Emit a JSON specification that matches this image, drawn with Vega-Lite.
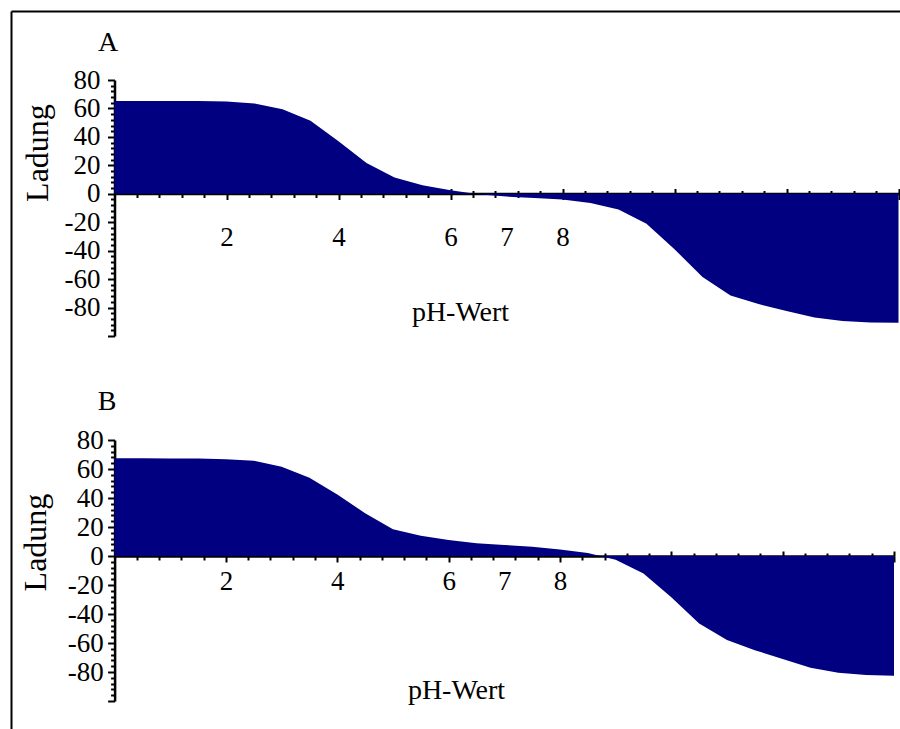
{
  "$schema": "https://vega.github.io/schema/vega-lite/v6.json",
  "autosize": {"type": "none"},
  "padding": {"left": 11, "top": 11, "right": 0, "bottom": 0},
  "width": 889,
  "height": 718,
  "background": "white",
  "config": {
    "font": "Liberation Serif",
    "view": {"stroke": null},
    "axis": {
      "labelFont": "Liberation Serif", "titleFont": "Liberation Serif",
      "labelColor": "black", "titleColor": "black", "titleFontWeight": "normal",
      "domainColor": "black", "tickColor": "black", "grid": false,
      "labelFontSize": 27, "titleFontSize": 28, "tickWidth": 2, "domainWidth": 2.5,
      "labelOverlap": false, "labelFlush": false, "labelBound": false
    }
  },
  "datasets": {
    "A": [
      {"ph": 0, "ladung": 65.3}, {"ph": 0.5, "ladung": 65.3}, {"ph": 1, "ladung": 65.3},
      {"ph": 1.5, "ladung": 65.2}, {"ph": 2, "ladung": 64.9}, {"ph": 2.5, "ladung": 63.5},
      {"ph": 3, "ladung": 59.5}, {"ph": 3.5, "ladung": 51.3}, {"ph": 4, "ladung": 37},
      {"ph": 4.5, "ladung": 21.7}, {"ph": 5, "ladung": 11.4}, {"ph": 5.5, "ladung": 6},
      {"ph": 6, "ladung": 2.5}, {"ph": 6.5, "ladung": -0.3}, {"ph": 7, "ladung": -2},
      {"ph": 7.5, "ladung": -3}, {"ph": 8, "ladung": -4}, {"ph": 8.5, "ladung": -6.5},
      {"ph": 9, "ladung": -11}, {"ph": 9.5, "ladung": -21}, {"ph": 10, "ladung": -39},
      {"ph": 10.5, "ladung": -58.5}, {"ph": 11, "ladung": -71.5}, {"ph": 11.5, "ladung": -77.5},
      {"ph": 12, "ladung": -82.5}, {"ph": 12.5, "ladung": -87}, {"ph": 13, "ladung": -89.5},
      {"ph": 13.5, "ladung": -90.5}, {"ph": 14, "ladung": -90.7}
    ],
    "B": [
      {"ph": 0, "ladung": 67.4}, {"ph": 0.5, "ladung": 67.4}, {"ph": 1, "ladung": 67.3},
      {"ph": 1.5, "ladung": 67.2}, {"ph": 2, "ladung": 66.8}, {"ph": 2.5, "ladung": 65.7},
      {"ph": 3, "ladung": 61.6}, {"ph": 3.5, "ladung": 54}, {"ph": 4, "ladung": 42.5},
      {"ph": 4.5, "ladung": 29.5}, {"ph": 5, "ladung": 18.4}, {"ph": 5.5, "ladung": 14},
      {"ph": 6, "ladung": 11}, {"ph": 6.5, "ladung": 8.8}, {"ph": 7, "ladung": 7.6},
      {"ph": 7.5, "ladung": 6.3}, {"ph": 8, "ladung": 4.4}, {"ph": 8.5, "ladung": 2},
      {"ph": 9, "ladung": -2.5}, {"ph": 9.5, "ladung": -12}, {"ph": 10, "ladung": -28.5},
      {"ph": 10.5, "ladung": -46.5}, {"ph": 11, "ladung": -58}, {"ph": 11.5, "ladung": -65},
      {"ph": 12, "ladung": -71}, {"ph": 12.5, "ladung": -77}, {"ph": 13, "ladung": -80.5},
      {"ph": 13.5, "ladung": -82}, {"ph": 14, "ladung": -82.6}
    ]
  },
  "layer": [
    {
      "data": {"name": "A"},
      "mark": {"type": "area", "color": "#000080", "interpolate": "linear"},
      "encoding": {
        "x": {"field": "ph", "type": "quantitative",
          "scale": {"domain": [0, 14], "range": [103.5, 887.5], "nice": false, "zero": false},
          "axis": {"orient": "bottom", "offset": -535.5, "title": "pH-Wert",
            "values": [0.4,0.8,1.2,1.6,2,2.4,2.8,3.2,3.6,4,4.4,4.8,5.2,5.6,6,6.4,6.8,7,7.2,7.6,8,8.4,8.8,9.2,9.6,10,10.4,10.8,11.2,11.6,12,12.4,12.8,13.2,13.6,14],
            "labelExpr": "indexof([2,4,6,7,8], datum.value) >= 0 ? '' + datum.value : ''",
            "tickSize": {"condition": {"test": "datum.value % 2 === 0 || datum.value === 7", "value": 6}, "value": 4},
            "tickOpacity": {"condition": {"test": "datum.value === 7", "value": 0}, "value": 1},
            "labelFont": "Liberation Serif",
            "labelBaseline": "middle", "labelAlign": "center", "labelPadding": 37.5, "labelAngle": 0,
            "titleX": 449, "titleY": 118.5, "titleAlign": "center", "titleBaseline": "middle"}},
        "y": {"field": "ladung", "type": "quantitative", "stack": null,
          "scale": {"domain": [-100, 80], "range": [325, 69], "nice": false, "zero": false},
          "axis": {"orient": "left", "offset": -103.5, "title": "Ladung",
            "values": [-100,-96,-92,-88,-84,-80,-76,-72,-68,-64,-60,-56,-52,-48,-44,-40,-36,-32,-28,-24,-20,-16,-12,-8,-4,0,4,8,12,16,20,24,28,32,36,40,44,48,52,56,60,64,68,72,76,80],
            "labelExpr": "datum.value % 20 === 0 && datum.value > -100 ? '' + datum.value : ''",
            "tickSize": {"condition": {"test": "datum.value % 20 === 0", "value": 7}, "value": 4},
            "labelFont": "Liberation Serif",
            "labelPadding": 7.5, "labelBaseline": "middle", "labelAlign": "right",
            "titleFontSize": 32, "titleAngle": -90, "titleX": -77.5, "titleY": 141.5,
            "titleAlign": "center", "titleBaseline": "middle"}}
      }
    },
    {
      "data": {"name": "A"},
      "mark": {"type": "line", "opacity": 0},
      "encoding": {
        "x": {"field": "ph", "type": "quantitative",
          "scale": {"domain": [0, 14], "range": [103.5, 887.5], "nice": false, "zero": false},
          "axis": {"orient": "top", "offset": -182.5, "title": "A", "labels": false, "domain": false,
            "values": [0.4,0.8,1.2,1.6,2,2.4,2.8,3.2,3.6,4,4.4,4.8,5.2,5.6,6,6.4,6.8,7.2,7.6,8,8.4,8.8,9.2,9.6,10,10.4,10.8,11.2,11.6,12,12.4,12.8,13.2,13.6,14],
            "tickSize": {"condition": {"test": "datum.value % 2 === 0", "value": 5}, "value": 3},
            "titleX": 96.5, "titleY": -150.8, "titleAlign": "center", "titleBaseline": "middle", "titleAngle": 0}},
        "y": {"field": "ladung", "type": "quantitative",
          "scale": {"domain": [-100, 80], "range": [325, 69], "nice": false, "zero": false},
          "axis": null}
      }
    },
    {
      "data": {"name": "B"},
      "mark": {"type": "area", "color": "#000080", "interpolate": "linear"},
      "encoding": {
        "x": {"field": "ph", "type": "quantitative",
          "scale": {"domain": [0, 14], "range": [103.6, 883], "nice": false, "zero": false},
          "axis": {"orient": "bottom", "offset": -173, "title": "pH-Wert",
            "values": [0.4,0.8,1.2,1.6,2,2.4,2.8,3.2,3.6,4,4.4,4.8,5.2,5.6,6,6.4,6.8,7,7.2,7.6,8,8.4,8.8,9.2,9.6,10,10.4,10.8,11.2,11.6,12,12.4,12.8,13.2,13.6,14],
            "labelExpr": "indexof([2,4,6,7,8], datum.value) >= 0 ? '' + datum.value : ''",
            "tickSize": {"condition": {"test": "datum.value % 2 === 0 || datum.value === 7", "value": 6}, "value": 4},
            "tickOpacity": {"condition": {"test": "datum.value === 7", "value": 0}, "value": 1},
            "labelFont": "Liberation Serif",
            "labelBaseline": "middle", "labelAlign": "center", "labelPadding": 19.7, "labelAngle": 0,
            "titleX": 445, "titleY": 134, "titleAlign": "center", "titleBaseline": "middle"}},
        "y": {"field": "ladung", "type": "quantitative", "stack": null,
          "scale": {"domain": [-100, 80], "range": [690, 429], "nice": false, "zero": false},
          "axis": {"orient": "left", "offset": -103.6, "title": "Ladung",
            "values": [-100,-96,-92,-88,-84,-80,-76,-72,-68,-64,-60,-56,-52,-48,-44,-40,-36,-32,-28,-24,-20,-16,-12,-8,-4,0,4,8,12,16,20,24,28,32,36,40,44,48,52,56,60,64,68,72,76,80],
            "labelExpr": "datum.value % 20 === 0 && datum.value > -100 ? '' + datum.value : ''",
            "tickSize": {"condition": {"test": "datum.value % 20 === 0", "value": 7}, "value": 4},
            "labelFont": "Liberation Serif",
            "labelPadding": 4.3, "labelBaseline": "middle", "labelAlign": "right",
            "titleFontSize": 32, "titleAngle": -90, "titleX": -79.6, "titleY": 531,
            "titleAlign": "center", "titleBaseline": "middle"}}
      }
    },
    {
      "data": {"name": "B"},
      "mark": {"type": "line", "opacity": 0},
      "encoding": {
        "x": {"field": "ph", "type": "quantitative",
          "scale": {"domain": [0, 14], "range": [103.6, 883], "nice": false, "zero": false},
          "axis": {"orient": "top", "offset": -545, "title": "B", "labels": false, "domain": false,
            "values": [0.4,0.8,1.2,1.6,2,2.4,2.8,3.2,3.6,4,4.4,4.8,5.2,5.6,6,6.4,6.8,7.2,7.6,8,8.4,8.8,9.2,9.6,10,10.4,10.8,11.2,11.6,12,12.4,12.8,13.2,13.6,14],
            "tickSize": {"condition": {"test": "datum.value % 2 === 0", "value": 5}, "value": 3},
            "titleX": 95.7, "titleY": -155, "titleAlign": "center", "titleBaseline": "middle", "titleAngle": 0}},
        "y": {"field": "ladung", "type": "quantitative",
          "scale": {"domain": [-100, 80], "range": [690, 429], "nice": false, "zero": false},
          "axis": null}
      }
    },
    {
      "data": {"name": "A"},
      "mark": {"type": "line", "opacity": 0},
      "encoding": {
        "x": {"field": "ph", "type": "quantitative",
          "scale": {"domain": [0, 14], "range": [0, 889], "nice": false, "zero": false},
          "axis": {"orient": "top", "offset": 0, "domain": true, "domainWidth": 2, "ticks": false, "labels": false, "title": null}},
        "y": {"field": "ladung", "type": "quantitative",
          "scale": {"domain": [-100, 80], "range": [718, 0], "nice": false, "zero": false},
          "axis": {"orient": "left", "offset": 0, "domain": true, "domainWidth": 2, "ticks": false, "labels": false, "title": null}}
      }
    }
  ],
  "resolve": {
    "scale": {"x": "independent", "y": "independent"},
    "axis": {"x": "independent", "y": "independent"}
  }
}
